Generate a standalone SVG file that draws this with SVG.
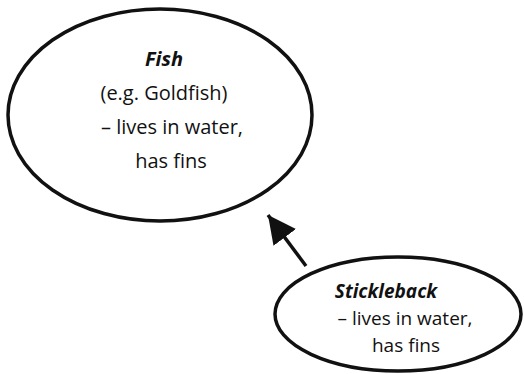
<svg xmlns="http://www.w3.org/2000/svg" width="524" height="374" viewBox="0 0 524 374">
<style>
.node{fill:#fff;stroke:#111;stroke-width:3.5}
.t{font-family:"Open Sans",Lato,"Liberation Sans",sans-serif;font-size:20px;fill:#111;text-anchor:middle}
.s{font-size:19px}
.b{font-weight:bold;font-style:italic}
.edge{stroke:#111;stroke-width:3.5;fill:none}
</style>
<defs>
<marker id="ah" markerUnits="userSpaceOnUse" markerWidth="30" markerHeight="30" refX="28" refY="14" orient="auto" viewBox="0 0 30 28">
<path d="M0,0 L28,14 L0,28 Z" fill="#111"/>
</marker>
</defs>
<rect width="524" height="374" fill="#fff"/>
<g id="fish">
<ellipse class="node" cx="160" cy="115" rx="152" ry="106"/>
<text class="t b" x="164" y="66">Fish</text>
<text class="t" x="164" y="100">(e.g. Goldfish)</text>
<text class="t" x="172" y="134">– lives in water,</text>
<text class="t" x="171" y="168">has fins</text>
</g>
<g id="stickleback">
<ellipse class="node" cx="398" cy="314" rx="123" ry="57"/>
<text class="t s b" x="386" y="298">Stickleback</text>
<text class="t s" x="405" y="325">– lives in water,</text>
<text class="t s" x="406" y="352">has fins</text>
</g>
<g id="connectors">
<line class="edge" x1="306" y1="266" x2="268" y2="215" marker-end="url(#ah)"/>
</g>
</svg>
